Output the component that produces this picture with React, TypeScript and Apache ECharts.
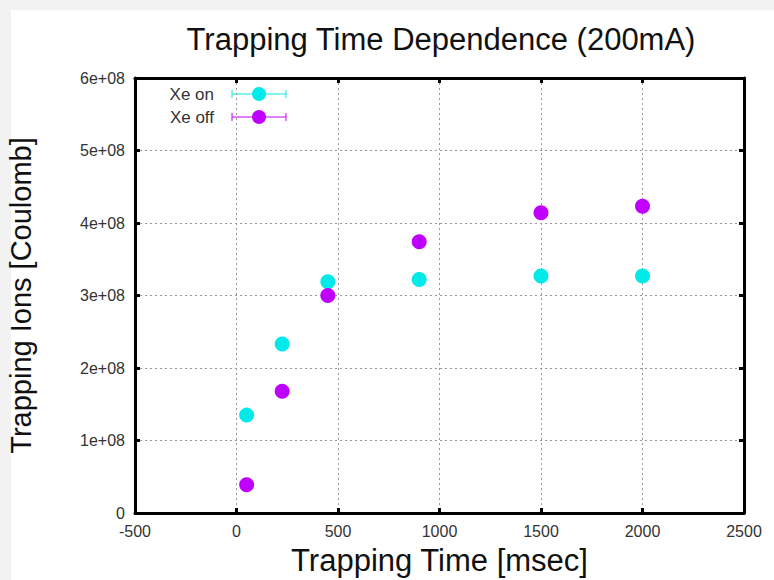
import React, { useEffect, useRef } from "react";
import * as echarts from "echarts";

const title = "Trapping Time Dependence (200mA)";
const xName = "Trapping Time [msec]";
const yName = "Trapping Ions [Coulomb]";
const seriesNames = ["Xe on", "Xe off"];
const seriesColors = ["#00eaea", "#c000ff"];
const times = [50, 225, 450, 900, 1500, 2000];
const xeOn = [1.35e8, 2.33e8, 3.19e8, 3.22e8, 3.27e8, 3.27e8];
const xeOff = [0.39e8, 1.68e8, 3.0e8, 3.74e8, 4.14e8, 4.23e8];

const FONT = "'Liberation Sans', Arial, sans-serif";

export default function App() {
  const ref = useRef<HTMLDivElement>(null);
  useEffect(() => {
    if (!ref.current) return;
    const chart = echarts.init(ref.current, undefined, { renderer: "svg" });
    const yFmt = (v: number) => (v === 0 ? "0" : `${Math.round(v / 1e8)}e+08`);
    const gridLine = { show: true, lineStyle: { color: "#999", type: [2, 3] as any, width: 1 } };
    const axisLine = { show: true, onZero: false, lineStyle: { color: "#000", width: 3 } };
    const axisTick = { show: true, inside: true, length: 5, lineStyle: { color: "#000", width: 3 } };
    const legendItems: any[] = [];
    seriesNames.forEach((n, i) => {
      const y = 94 + i * 23;
      legendItems.push(
        { type: "text", x: 214, y, style: { text: n, font: `17px ${FONT}`, fill: "#333", align: "right", verticalAlign: "middle" } },
        { type: "line", shape: { x1: 232, y1: y, x2: 286, y2: y }, style: { stroke: seriesColors[i], lineWidth: 1 } },
        { type: "line", shape: { x1: 232, y1: y - 4, x2: 232, y2: y + 4 }, style: { stroke: seriesColors[i], lineWidth: 1 } },
        { type: "line", shape: { x1: 286, y1: y - 4, x2: 286, y2: y + 4 }, style: { stroke: seriesColors[i], lineWidth: 1 } },
        { type: "circle", shape: { cx: 259, cy: y, r: 7 }, style: { fill: seriesColors[i] } }
      );
    });
    chart.setOption({
      animation: false,
      backgroundColor: "#fff",
      textStyle: { fontFamily: FONT },
      title: {
        text: title,
        left: 436,
        textAlign: "center",
        top: 19,
        textStyle: { fontSize: 31, fontWeight: "normal", color: "#111", fontFamily: FONT },
      },
      graphic: [
        { type: "rect", shape: { x: 0, y: 0, width: 774, height: 10 }, style: { fill: "#f2f2f2" } },
        { type: "rect", shape: { x: 0, y: 0, width: 11, height: 580 }, style: { fill: "#f2f2f2" } },
        ...legendItems,
      ],
      grid: { left: 135, right: 30, top: 78, bottom: 67, containLabel: false, outerBoundsMode: "none" },
      xAxis: [
        {
          type: "value",
          min: -500,
          max: 2500,
          interval: 500,
          name: xName,
          nameLocation: "middle",
          nameGap: 32,
          nameTextStyle: { fontSize: 31, color: "#111", fontFamily: FONT },
          axisLabel: { fontSize: 16, color: "#333", margin: 10, formatter: (v: number) => String(v) },
          axisLine,
          axisTick,
          splitLine: gridLine,
        },
        {
          type: "value",
          position: "top",
          min: -500,
          max: 2500,
          interval: 500,
          axisLabel: { show: false },
          axisLine,
          axisTick,
          splitLine: { show: false },
        },
      ],
      yAxis: [
        {
          type: "value",
          min: 0,
          max: 6e8,
          interval: 1e8,
          name: yName,
          nameLocation: "middle",
          nameGap: 100,
          nameTextStyle: { fontSize: 29, color: "#111", fontFamily: FONT },
          axisLabel: { fontSize: 16, color: "#333", margin: 10, formatter: yFmt },
          axisLine,
          axisTick,
          splitLine: gridLine,
        },
        {
          type: "value",
          position: "right",
          min: 0,
          max: 6e8,
          interval: 1e8,
          axisLabel: { show: false },
          axisLine,
          axisTick,
          splitLine: { show: false },
        },
      ],
      series: [xeOn, xeOff].map((vals, i) => ({
        name: seriesNames[i],
        type: "scatter",
        symbol: "circle",
        symbolSize: 15,
        itemStyle: { color: seriesColors[i], opacity: 1 },
        data: times.map((t, k) => [t, vals[k]]),
      })),
    });
    return () => chart.dispose();
  }, []);
  return (
    <div
      ref={ref}
      style={{ position: "fixed", left: 0, top: 0, width: 774, height: 580 }}
    />
  );
}
